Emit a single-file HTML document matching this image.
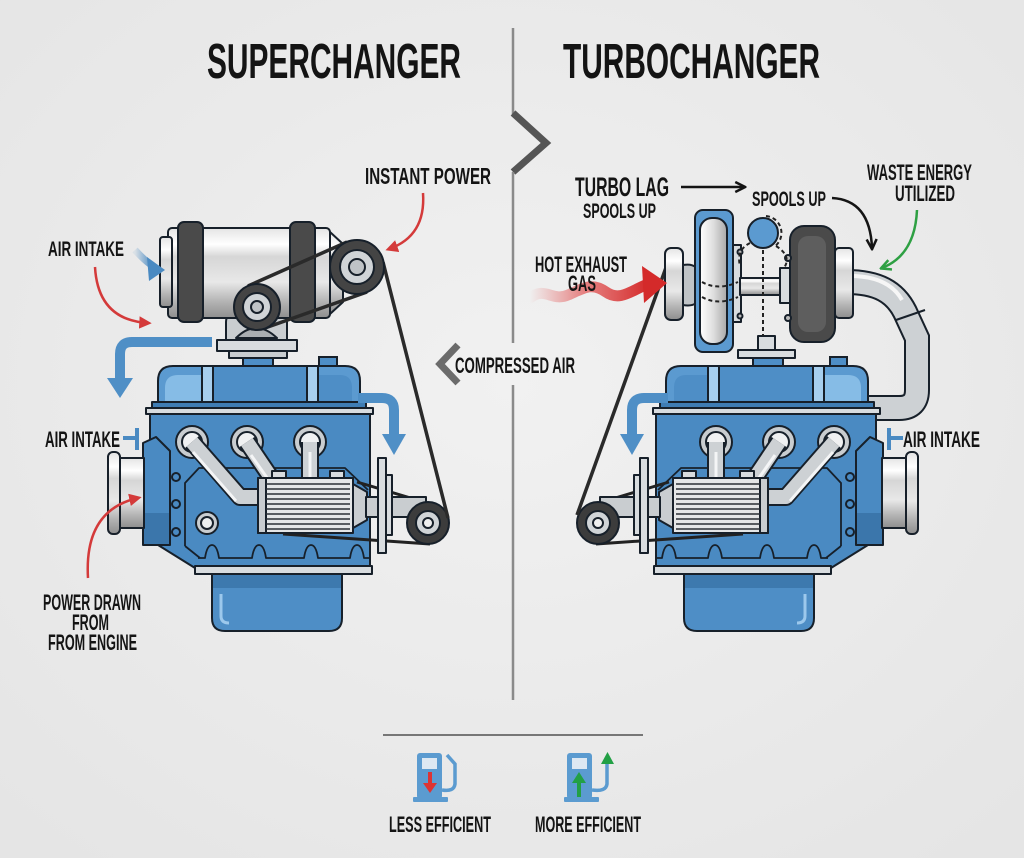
<!DOCTYPE html>
<html><head><meta charset="utf-8">
<style>
html,body{margin:0;padding:0;background:#ebebeb;}
svg{display:block}
text{font-family:"Liberation Sans Narrow","Liberation Sans",sans-serif;font-weight:700;fill:#141414}
</style></head><body>
<svg width="1024" height="858" viewBox="0 0 1024 858" xmlns="http://www.w3.org/2000/svg">
<defs>
 <radialGradient id="bg" cx="50%" cy="45%" r="70%"><stop offset="0" stop-color="#f1f1f1"/><stop offset="1" stop-color="#e5e5e5"/></radialGradient>
 <linearGradient id="cyl" x1="0" y1="0" x2="0" y2="1">
  <stop offset="0" stop-color="#e4e4e4"/><stop offset="0.18" stop-color="#ffffff"/><stop offset="0.32" stop-color="#d6d6d6"/><stop offset="0.6" stop-color="#e8e8e8"/><stop offset="0.82" stop-color="#b3b3b3"/><stop offset="1" stop-color="#8e8e8e"/>
 </linearGradient>
 <linearGradient id="cylh" x1="0" y1="0" x2="1" y2="0">
  <stop offset="0" stop-color="#ffffff"/><stop offset="0.5" stop-color="#dedede"/><stop offset="1" stop-color="#a8a8a8"/>
 </linearGradient>
 <linearGradient id="wave" x1="0" y1="0" x2="1" y2="0">
  <stop offset="0" stop-color="#e45050" stop-opacity="0"/><stop offset="0.45" stop-color="#e04848" stop-opacity="0.65"/><stop offset="1" stop-color="#d42a2a"/>
 </linearGradient>
 <linearGradient id="bfade" x1="0" y1="0" x2="1" y2="0">
  <stop offset="0" stop-color="#4a8ac2" stop-opacity="0.1"/><stop offset="1" stop-color="#4a8ac2"/>
 </linearGradient>
 <marker id="rh" viewBox="0 0 10 10" refX="7" refY="5" markerWidth="5" markerHeight="5" orient="auto"><path d="M0 0 L10 5 L0 10 Z" fill="#d43a3a"/></marker>
 <marker id="kh" viewBox="0 0 10 10" refX="8" refY="5" markerWidth="5" markerHeight="5" orient="auto"><path d="M1 1 L9 5 L1 9" fill="none" stroke="#141414" stroke-width="2"/></marker>
 <marker id="gh" viewBox="0 0 10 10" refX="8" refY="5" markerWidth="5" markerHeight="5" orient="auto"><path d="M1 1 L9 5 L1 9" fill="none" stroke="#2ea043" stroke-width="2"/></marker>
</defs>

<rect width="1024" height="858" fill="url(#bg)"/>

<!-- divider -->
<path d="M513 28 V115" stroke="#8a8a8a" stroke-width="2.5"/>
<path d="M513 113 L546 143 L513 172" fill="none" stroke="#555" stroke-width="7" stroke-linejoin="miter"/>
<path d="M513 172 V343 M513 385 V700" stroke="#8a8a8a" stroke-width="2.5"/>
<path d="M458 345 L440 364 L458 383" fill="none" stroke="#6b6b6b" stroke-width="7"/>

<!-- titles -->
<text x="207" y="78" font-size="49" textLength="254" lengthAdjust="spacingAndGlyphs">SUPERCHANGER</text>
<text x="563" y="78" font-size="49" textLength="257" lengthAdjust="spacingAndGlyphs">TURBOCHANGER</text>

<!-- ============ LEFT ENGINE ============ -->
<g stroke="#17202a" stroke-width="2" stroke-linejoin="round">
 <path d="M212 570 V618 Q212 631 225 631 H329 Q342 631 342 618 V570 Z" fill="#4e8ec6"/>
 <rect x="213" y="575" width="128" height="13" fill="#3d79ae" stroke="none"/>
 <path d="M221 594 V616 Q221 623 229 623" fill="none" stroke="#9cc8ec" stroke-width="3"/>
 <rect x="243" y="357" width="30" height="10" fill="#4e8ec6"/>
 <path d="M158 404 V381 Q158 366 173 366 H345 Q360 366 360 381 V404 Z" fill="#5b9ad0"/>
 <path d="M165 404 V388 Q165 375 178 375 H202 V404 Z" fill="#86bce6" stroke="none"/>
 <path d="M318 375 H340 Q352 375 352 388 V404 H318 Z" fill="#4e8ec6" stroke="none"/>
 <rect x="202" y="366" width="11" height="38" fill="#a7cfee"/>
 <rect x="307" y="366" width="11" height="38" fill="#a7cfee"/>
 <rect x="213" y="366" width="94" height="38" fill="#4e8ec6"/>
 <rect x="152" y="402" width="214" height="6" fill="#3f7db4"/>
 <rect x="146" y="408" width="227" height="6" fill="#d8dcdf"/>
 <path d="M150 414 H370 V568 H195 L150 540 Z" fill="#4a8ac2"/>
 <path d="M185 546 V483 L199 468 H345 L368 490" fill="none" stroke-width="1.8"/>
 <path d="M185 546 L200 558" fill="none" stroke-width="1.8"/>
 <path d="M198 558 H205 Q207 545 212 545 Q217 545 219 558 H252 Q254 545 259 545 Q264 545 266 558 H304 Q306 545 311 545 Q316 545 318 558 H350 Q352 545 357 545 Q362 545 364 558 H370" fill="none" stroke-width="1.8"/>
 <rect x="195" y="566" width="177" height="8" fill="#d8dcdf"/>
 <path d="M143 443 L156 437 L170 451 V545 H143 Z" fill="#4a8ac2"/>
 <rect x="144" y="513" width="25" height="31" fill="#3b76ab" stroke="none"/>
 <rect x="118" y="458" width="26" height="70" fill="url(#cyl)"/>
 <rect x="108" y="452" width="12" height="82" rx="5" fill="url(#cyl)"/>
 <circle cx="176" cy="477" r="4" fill="#4a8ac2"/>
 <circle cx="176" cy="504" r="4" fill="#4a8ac2"/>
 <circle cx="176" cy="532" r="4" fill="#4a8ac2"/>
 <circle cx="207" cy="523" r="11" fill="#c9cdd0"/><circle cx="207" cy="523" r="6" fill="#eceeef"/>
 <circle cx="192" cy="442" r="16" fill="#c9cdd0"/><circle cx="192" cy="442" r="10" fill="#f0f1f2"/>
 <circle cx="247" cy="442" r="16" fill="#c9cdd0"/><circle cx="247" cy="442" r="10" fill="#f0f1f2"/>
 <circle cx="310" cy="442" r="16" fill="#c9cdd0"/><circle cx="310" cy="442" r="10" fill="#f0f1f2"/>
 <path d="M192 442 L240 497 H262 M247 442 L274 482 M310 442 V482" fill="none" stroke="#17202a" stroke-width="18"/>
 <path d="M192 442 L240 497 H262 M247 442 L274 482 M310 442 V482" fill="none" stroke="#cdd1d4" stroke-width="14"/>
 <path d="M193 452 L236 501 M251 455 L270 482 M310 452 V482" fill="none" stroke="#f4f5f6" stroke-width="3"/>
 <path d="M357 482 L424 502 M283 534 L430 544" stroke="#222" stroke-width="3" fill="none"/>
 <path d="M353 484 L367 492 V520 L353 528 Z" fill="#c9cdd0"/>
 <rect x="366" y="497" width="60" height="20" fill="#c9cdd0"/>
 <rect x="386" y="475" width="6" height="60" fill="#d8dcdf"/>
 <rect x="378" y="458" width="8" height="95" fill="#d8dcdf"/>
 <rect x="272" y="471" width="14" height="8" fill="#d8dcdf"/>
 <rect x="330" y="471" width="14" height="8" fill="#d8dcdf"/>
 <rect x="258" y="478" width="95" height="55" fill="#e4e6e7"/>
 <rect x="258" y="478" width="8" height="55" fill="#c9cdd0"/>
 <path d="M266 484 H350 M266 489 H350 M266 494 H350 M266 499 H350 M266 504 H350 M266 509 H350 M266 514 H350 M266 519 H350 M266 524 H350 M266 529 H350" stroke="#2a2f35" stroke-width="1.5"/>
 <circle cx="428" cy="523" r="21" fill="#3c3c3c"/>
 <circle cx="428" cy="523" r="12" fill="#d0d4d7"/>
 <circle cx="428" cy="523" r="5" fill="#eeeeee"/>
 <path d="M358 398 H382 Q394 398 394 410 V436" fill="none" stroke="#4f8fc6" stroke-width="10"/>
 <path d="M382 434 H406 L394 455 Z" fill="#4f8fc6" stroke="none"/>
 <path d="M123 438 H137 M137 428 V450" stroke="#4a8ac2" stroke-width="4" fill="none"/>
</g>
<rect x="319" y="357" width="18" height="9" fill="#4e8ec6" stroke="#17202a" stroke-width="2"/>

<!-- ============ RIGHT ENGINE (mirror) ============ -->
<path d="M846 282 C878 282 895 292 905 312 L917 338 V390 Q917 408 899 408 H866" fill="none" stroke="#17202a" stroke-width="26"/>
<path d="M846 282 C878 282 895 292 905 312 L917 338 V390 Q917 408 899 408 H866" fill="none" stroke="#cdd1d4" stroke-width="22"/>
<path d="M850 276 C876 276 893 284 902 300" fill="none" stroke="#f6f6f6" stroke-width="4"/>
<path d="M896 320 L925 310" stroke="#17202a" stroke-width="2"/>
<g transform="translate(1026 0) scale(-1 1)">
<g stroke="#17202a" stroke-width="2" stroke-linejoin="round">
 <path d="M212 570 V618 Q212 631 225 631 H329 Q342 631 342 618 V570 Z" fill="#4e8ec6"/>
 <rect x="213" y="575" width="128" height="13" fill="#3d79ae" stroke="none"/>
 <path d="M221 594 V616 Q221 623 229 623" fill="none" stroke="#9cc8ec" stroke-width="3"/>
 <rect x="243" y="357" width="30" height="10" fill="#4e8ec6"/>
 <path d="M158 404 V381 Q158 366 173 366 H345 Q360 366 360 381 V404 Z" fill="#5b9ad0"/>
 <path d="M165 404 V388 Q165 375 178 375 H202 V404 Z" fill="#86bce6" stroke="none"/>
 <path d="M318 375 H340 Q352 375 352 388 V404 H318 Z" fill="#4e8ec6" stroke="none"/>
 <rect x="202" y="366" width="11" height="38" fill="#a7cfee"/>
 <rect x="307" y="366" width="11" height="38" fill="#a7cfee"/>
 <rect x="213" y="366" width="94" height="38" fill="#4e8ec6"/>
 <rect x="152" y="402" width="214" height="6" fill="#3f7db4"/>
 <rect x="146" y="408" width="227" height="6" fill="#d8dcdf"/>
 <path d="M150 414 H370 V568 H195 L150 540 Z" fill="#4a8ac2"/>
 <path d="M185 546 V483 L199 468 H345 L368 490" fill="none" stroke-width="1.8"/>
 <path d="M185 546 L200 558" fill="none" stroke-width="1.8"/>
 <path d="M198 558 H205 Q207 545 212 545 Q217 545 219 558 H252 Q254 545 259 545 Q264 545 266 558 H304 Q306 545 311 545 Q316 545 318 558 H350 Q352 545 357 545 Q362 545 364 558 H370" fill="none" stroke-width="1.8"/>
 <rect x="195" y="566" width="177" height="8" fill="#d8dcdf"/>
 <path d="M143 443 L156 437 L170 451 V545 H143 Z" fill="#4a8ac2"/>
 <rect x="144" y="513" width="25" height="31" fill="#3b76ab" stroke="none"/>
 <rect x="118" y="458" width="26" height="70" fill="url(#cyl)"/>
 <rect x="108" y="452" width="12" height="82" rx="5" fill="url(#cyl)"/>
 <circle cx="176" cy="477" r="4" fill="#4a8ac2"/>
 <circle cx="176" cy="504" r="4" fill="#4a8ac2"/>
 <circle cx="176" cy="532" r="4" fill="#4a8ac2"/>
 <circle cx="192" cy="442" r="16" fill="#c9cdd0"/><circle cx="192" cy="442" r="10" fill="#f0f1f2"/>
 <circle cx="247" cy="442" r="16" fill="#c9cdd0"/><circle cx="247" cy="442" r="10" fill="#f0f1f2"/>
 <circle cx="310" cy="442" r="16" fill="#c9cdd0"/><circle cx="310" cy="442" r="10" fill="#f0f1f2"/>
 <path d="M192 442 L240 497 H262 M247 442 L274 482 M310 442 V482" fill="none" stroke="#17202a" stroke-width="18"/>
 <path d="M192 442 L240 497 H262 M247 442 L274 482 M310 442 V482" fill="none" stroke="#cdd1d4" stroke-width="14"/>
 <path d="M193 452 L236 501 M251 455 L270 482 M310 452 V482" fill="none" stroke="#f4f5f6" stroke-width="3"/>
 <path d="M357 482 L424 502 M283 534 L430 544" stroke="#222" stroke-width="3" fill="none"/>
 <path d="M353 484 L367 492 V520 L353 528 Z" fill="#c9cdd0"/>
 <rect x="366" y="497" width="60" height="20" fill="#c9cdd0"/>
 <rect x="386" y="475" width="6" height="60" fill="#d8dcdf"/>
 <rect x="378" y="458" width="8" height="95" fill="#d8dcdf"/>
 <rect x="272" y="471" width="14" height="8" fill="#d8dcdf"/>
 <rect x="330" y="471" width="14" height="8" fill="#d8dcdf"/>
 <rect x="258" y="478" width="95" height="55" fill="#e4e6e7"/>
 <rect x="258" y="478" width="8" height="55" fill="#c9cdd0"/>
 <path d="M266 484 H350 M266 489 H350 M266 494 H350 M266 499 H350 M266 504 H350 M266 509 H350 M266 514 H350 M266 519 H350 M266 524 H350 M266 529 H350" stroke="#2a2f35" stroke-width="1.5"/>
 <circle cx="428" cy="523" r="21" fill="#3c3c3c"/>
 <circle cx="428" cy="523" r="12" fill="#d0d4d7"/>
 <circle cx="428" cy="523" r="5" fill="#eeeeee"/>
 <path d="M358 398 H382 Q394 398 394 410 V436" fill="none" stroke="#4f8fc6" stroke-width="10"/>
 <path d="M382 434 H406 L394 455 Z" fill="#4f8fc6" stroke="none"/>
 <path d="M123 438 H137 M137 428 V450" stroke="#4a8ac2" stroke-width="4" fill="none"/>
</g>
</g>
<rect x="830" y="357" width="17" height="9" fill="#4e8ec6" stroke="#17202a" stroke-width="2"/>

<!-- ============ SUPERCHARGER ============ -->
<g stroke="#17202a" stroke-width="2" stroke-linejoin="round">
 <path d="M226 341 V322 Q226 312 240 312 H273 Q287 312 287 322 V341 Z" fill="#c9cdd0"/>
 <path d="M236 338 Q256 318 277 338 Z" fill="#a9aeb2"/>
 <rect x="217" y="340" width="80" height="11" fill="#d8dcdf"/>
 <rect x="229" y="351" width="58" height="7" fill="#c9cdd0"/>
 <rect x="168" y="228" width="162" height="90" rx="4" fill="url(#cyl)"/>
 <path d="M330 232 L343 244 V302 L330 314 Z" fill="url(#cyl)"/>
 <rect x="160" y="237" width="12" height="70" rx="3" fill="url(#cyl)"/>
 <rect x="178" y="222" width="25" height="100" rx="6" fill="#4a4a4a"/>
 <rect x="290" y="222" width="25" height="100" rx="6" fill="#4a4a4a"/>
 <path d="M248 286 L347 242 M265 328 L367 292 M383 262 L448 518" stroke="#2a2a2a" stroke-width="3.5" fill="none"/>
 <circle cx="257" cy="307" r="23" fill="#444"/>
 <circle cx="257" cy="307" r="14" fill="#d0d4d7"/>
 <circle cx="257" cy="307" r="6" fill="#bfc3c6"/>
 <circle cx="357" cy="267" r="27" fill="#444"/>
 <circle cx="357" cy="267" r="17" fill="#d0d4d7"/>
 <circle cx="357" cy="267" r="8" fill="#bfc3c6"/>
</g>
<path d="M212 342 H132 Q120 342 120 354 V380" fill="none" stroke="#4f8fc6" stroke-width="10"/>
<path d="M107 378 H133 L120 398 Z" fill="#4f8fc6"/>
<path d="M135 250 Q146 262 153 266" fill="none" stroke="url(#bfade)" stroke-width="7"/>
<path d="M147 257 L165 270 L149 281 Z" fill="#4a8ac2"/>

<!-- left annotation arrows -->
<path d="M423 193 Q426 236 389 249" fill="none" stroke="#d43a3a" stroke-width="2.5" marker-end="url(#rh)"/>
<path d="M95 267 Q98 320 148 323" fill="none" stroke="#d43a3a" stroke-width="2.5" marker-end="url(#rh)"/>
<path d="M88 578 Q84 510 138 498" fill="none" stroke="#d43a3a" stroke-width="2.5" marker-end="url(#rh)"/>

<!-- ============ TURBO ============ -->
<g stroke="#17202a" stroke-width="2" stroke-linejoin="round">
 <path d="M577 515 L668 262" stroke="#2a2a2a" stroke-width="3.5" fill="none"/>
 <rect x="758" y="336" width="17" height="14" fill="#d8dcdf"/>
 <rect x="738" y="350" width="57" height="8" fill="#d8dcdf"/>
 <rect x="665" y="248" width="18" height="72" rx="6" fill="url(#cyl)"/>
 <path d="M683 265 Q700 262 700 280 V292 Q700 308 683 305 Z" fill="#bfc3c6"/>
 <rect x="695" y="210" width="38" height="142" rx="8" fill="#5b9ad0"/>
 <rect x="700" y="218" width="27" height="126" rx="12" fill="url(#cylh)"/>
 <rect x="733" y="245" width="8" height="77" fill="#d8dcdf"/>
 <rect x="740" y="278" width="42" height="17" fill="url(#cyl)"/>
 <rect x="780" y="268" width="10" height="35" fill="#d8dcdf"/>
 <rect x="790" y="226" width="45" height="116" rx="14" fill="#4a4a4a"/>
 <rect x="798" y="236" width="28" height="96" rx="10" fill="#5e5e5e" stroke="none"/>
 <rect x="835" y="248" width="18" height="70" rx="4" fill="url(#cyl)"/>
 <circle cx="788" cy="258" r="3" fill="#bbb"/><circle cx="788" cy="318" r="3" fill="#bbb"/>
 <circle cx="740" cy="252" r="2.5" fill="#bbb"/><circle cx="740" cy="316" r="2.5" fill="#bbb"/>
 <circle cx="763" cy="233" r="15" fill="#5b9ad0"/>
 <g fill="none" stroke="#222" stroke-width="2" stroke-dasharray="4 3">
  <path d="M766 216 A17 17 0 0 1 774 247"/>
  <path d="M750 243 Q736 250 740 266"/>
  <path d="M776 246 Q792 256 784 268"/>
  <path d="M763 250 V336"/>
  <path d="M702 282 Q718 291 738 282"/>
  <path d="M702 297 Q718 306 738 297"/>
 </g>
</g>
<path d="M530 298 C545 286 552 302 568 295 S592 282 606 292 S632 290 648 284" fill="none" stroke="url(#wave)" stroke-width="11" stroke-linecap="round"/>
<path d="M642 266 L667 283 L644 303 Z" fill="#d42a2a"/>

<!-- right annotation arrows -->
<path d="M681 187 H744" stroke="#141414" stroke-width="2.5" marker-end="url(#kh)"/>
<path d="M832 198 Q870 200 872 248" fill="none" stroke="#141414" stroke-width="2.5" marker-end="url(#kh)"/>
<path d="M917 210 Q915 255 882 268" fill="none" stroke="#2ea043" stroke-width="2.5" marker-end="url(#gh)"/>

<!-- labels -->
<text x="365" y="184" font-size="23" textLength="126" lengthAdjust="spacingAndGlyphs">INSTANT POWER</text>
<text x="575" y="196" font-size="27" textLength="94" lengthAdjust="spacingAndGlyphs">TURBO LAG</text>
<text x="583" y="218" font-size="21" textLength="73" lengthAdjust="spacingAndGlyphs">SPOOLS UP</text>
<text x="752" y="206" font-size="21" textLength="74" lengthAdjust="spacingAndGlyphs">SPOOLS UP</text>
<text x="867" y="180" font-size="22" textLength="105" lengthAdjust="spacingAndGlyphs">WASTE ENERGY</text>
<text x="895" y="201" font-size="22" textLength="60" lengthAdjust="spacingAndGlyphs">UTILIZED</text>
<text x="535" y="272" font-size="22" textLength="92" lengthAdjust="spacingAndGlyphs">HOT EXHAUST</text>
<text x="568" y="291" font-size="22" textLength="28" lengthAdjust="spacingAndGlyphs">GAS</text>
<text x="48" y="256" font-size="21" textLength="76" lengthAdjust="spacingAndGlyphs">AIR INTAKE</text>
<text x="45" y="447" font-size="22" textLength="75" lengthAdjust="spacingAndGlyphs">AIR INTAKE</text>
<text x="455" y="373" font-size="22" textLength="120" lengthAdjust="spacingAndGlyphs">COMPRESSED AIR</text>
<text x="903" y="447" font-size="22" textLength="77" lengthAdjust="spacingAndGlyphs">AIR INTAKE</text>
<text x="43" y="610" font-size="22" textLength="98" lengthAdjust="spacingAndGlyphs">POWER DRAWN</text>
<text x="72" y="630" font-size="22" textLength="37" lengthAdjust="spacingAndGlyphs">FROM</text>
<text x="48" y="650" font-size="22" textLength="89" lengthAdjust="spacingAndGlyphs">FROM ENGINE</text>

<!-- bottom legend -->
<path d="M383 735 H643" stroke="#777" stroke-width="2"/>
<g fill="#5b9bd0">
 <rect x="417" y="753" width="25" height="46" rx="3"/>
 <rect x="413" y="797" width="35" height="5" rx="1"/>
 <rect x="567" y="753" width="25" height="46" rx="3"/>
 <rect x="564" y="797" width="35" height="5" rx="1"/>
</g>
<rect x="422" y="758" width="15" height="11" fill="#dde8f2"/>
<rect x="572" y="758" width="15" height="11" fill="#dde8f2"/>
<path d="M442 790 Q454 792 455 784 V764 L447 755" fill="none" stroke="#5b9bd0" stroke-width="3.5"/>
<rect x="428" y="772" width="4" height="12" fill="#d33"/>
<path d="M423 783 H437 L430 793 Z" fill="#d33"/>
<path d="M592 790 Q606 792 607 784 V762" fill="none" stroke="#5b9bd0" stroke-width="3.5"/>
<path d="M601 764 H614 L607.5 752 Z" fill="#22a045"/>
<rect x="577" y="781" width="4" height="16" fill="#22a045"/>
<path d="M572 783 H586 L579 772 Z" fill="#22a045"/>
<text x="389" y="832" font-size="22" textLength="102" lengthAdjust="spacingAndGlyphs">LESS EFFICIENT</text>
<text x="535" y="832" font-size="22" textLength="106" lengthAdjust="spacingAndGlyphs">MORE EFFICIENT</text>
</svg>
</body></html>
